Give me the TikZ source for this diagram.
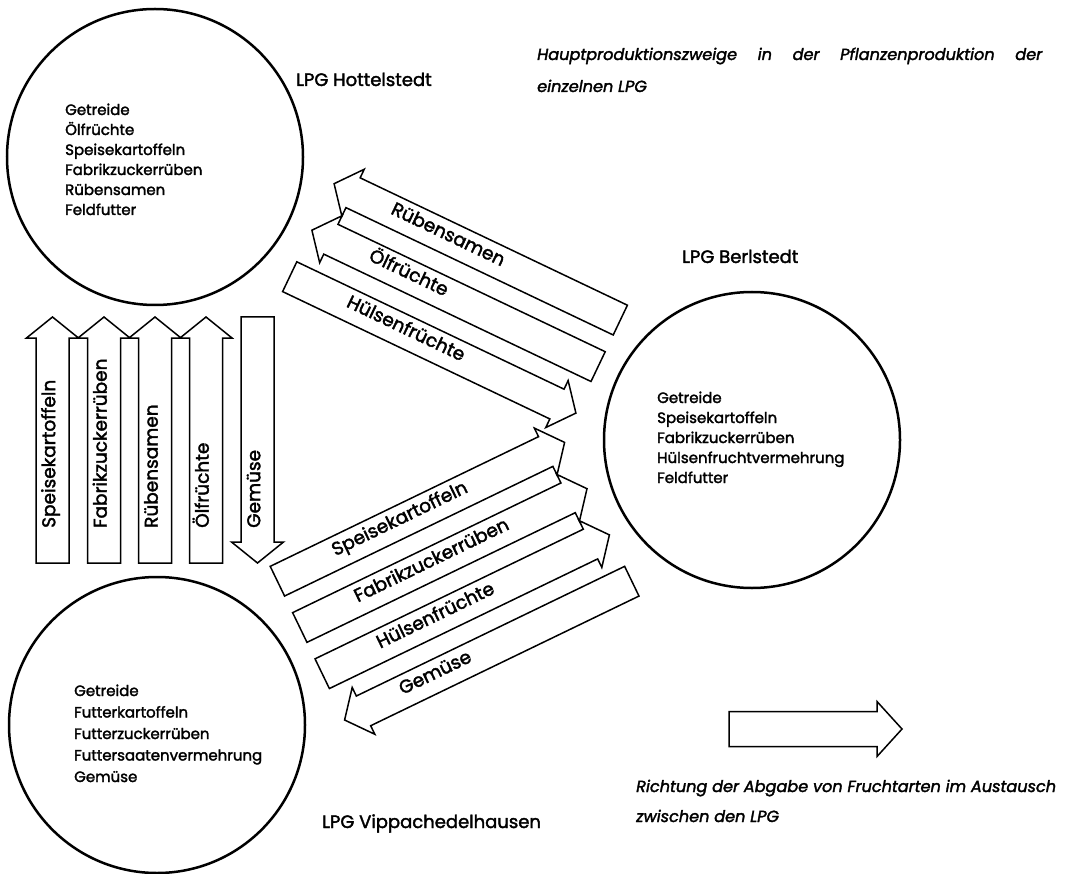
\documentclass[tikz,border=0pt]{standalone}
\usepackage{fontspec}
\setmainfont{Poppins}[FakeBold=2]
\usetikzlibrary{calc}
\newcommand\arrHalf{16.5pt}
\newcommand\arrHead{26pt}
\newcommand\arrLen{21pt}
\newcommand\fatarrow[3]{%
  \coordinate (#1-b) at ($(#3)!\arrLen!(#2)$);
  \draw[fat] ($(#2)!\arrHalf!90:(#3)$) -- ($(#1-b)!\arrHalf!90:(#3)$) -- ($(#1-b)!\arrHead!90:(#3)$) -- (#3)
    -- ($(#1-b)!\arrHead!-90:(#3)$) -- ($(#1-b)!\arrHalf!-90:(#3)$) -- ($(#2)!\arrHalf!-90:(#3)$) -- cycle;}
\begin{document}
\begin{tikzpicture}[x=1pt,y=-1pt,
  fat/.style={draw, line width=1.5pt, fill=white, line join=miter},
  circ/.style={circle, draw, line width=2.5pt, minimum size=296pt, inner sep=0pt},
  lst/.style={font=\fontsize{15}{18}\selectfont, anchor=base west, inner sep=0pt},
  lab/.style={font=\fontsize{18}{22}\selectfont, anchor=base west, inner sep=0pt},
  band/.style={font=\fontsize{18.5}{22}\selectfont, anchor=mid west, inner sep=0pt},
  note/.style={font=\itshape\fontsize{16.1}{20}\selectfont, anchor=base west, inner sep=0pt}]
\useasboundingbox (0,0) rectangle (1070,874);
\fill[white] (0,0) rectangle (1070,874);
% circles
\node[circ] (hott) at (155,157) {};
\node[circ] (berl) at (752,440) {};
\node[circ] (vipp) at (157,725) {};
% lists
\foreach \t [count=\i] in {Getreide,Ölfrüchte,Speisekartoffeln,Fabrikzuckerrüben,Rübensamen,Feldfutter}
  \node[lst] (hl\i) at (65,95+20*\i) {\t};
\foreach \t [count=\i] in {Getreide,Speisekartoffeln,Fabrikzuckerrüben,Hülsenfruchtvermehrung,Feldfutter}
  \node[lst] (bl\i) at (657,383+20*\i) {\t};
\foreach \t [count=\i] in {Getreide,Futterkartoffeln,Futterzuckerrüben,Futtersaatenvermehrung,Gemüse}
  \node[lst] (vl\i) at (74,674.5+21.5*\i) {\t};
% labels
\node[lab] (lh) at (296,86) {LPG Hottelstedt};
\node[lab] (lb) at (682,263) {LPG Berlstedt};
\node[lab] (lv) at (322,828) {LPG Vippachedelhausen};
% vertical arrows
\foreach \x [count=\n] in {52.5,104,155,206} {
  \coordinate (va\n) at (\x,563); \coordinate (vz\n) at (\x,317);
  \fatarrow{v\n}{va\n}{vz\n}
}
\coordinate (ga) at (257.5,317); \coordinate (gz) at (257.5,563);
\fatarrow{g}{ga}{gz}
\node[band, rotate=90] (tv1) at ($(va1)!35pt!(vz1)$) {Speisekartoffeln};
\node[band, rotate=90] (tv2) at ($(va2)!35pt!(vz2)$) {Fabrikzuckerrüben};
\node[band, rotate=90] (tv3) at ($(va3)!35pt!(vz3)$) {Rübensamen};
\node[band, rotate=90] (tv4) at ($(va4)!35pt!(vz4)$) {Ölfrüchte};
\node[band, rotate=90] (tg) at ($(gz)!35pt!(ga)$) {Gemüse};
% upper bands (Hottelstedt - Berlstedt)
\coordinate (u1a) at (620.3,320.1); \coordinate (u1z) at (334.1,183.7);
\coordinate (u2a) at (598.1,366.6); \coordinate (u2z) at (311.9,230.2);
\coordinate (u3a) at (289.7,276.7); \coordinate (u3z) at (575.9,413.1);
\fatarrow{u1}{u1a}{u1z}
\fatarrow{u2}{u2a}{u2z}
\fatarrow{u3}{u3a}{u3z}
\node[band, rotate=-25.5] (tu1) at ($(u1z)!63pt!(u1a)$) {Rübensamen};
\node[band, rotate=-25.5] (tu2) at ($(u2z)!63pt!(u2a)$) {Ölfrüchte};
\node[band, rotate=-25.5] (tu3) at ($(u3a)!63pt!(u3z)$) {Hülsenfrüchte};
% lower bands (Vippachedelhausen - Berlstedt)
\coordinate (w1a) at (277.4,581.2); \coordinate (w1z) at (564.6,442.4);
\coordinate (w2a) at (299.8,627.5); \coordinate (w2z) at (587.0,488.7);
\coordinate (w3a) at (322.2,673.7); \coordinate (w3z) at (609.4,534.9);
\coordinate (w4a) at (631.8,581.2); \coordinate (w4z) at (344.6,720.0);
\fatarrow{w1}{w1a}{w1z}
\fatarrow{w2}{w2a}{w2z}
\fatarrow{w3}{w3a}{w3z}
\fatarrow{w4}{w4a}{w4z}
\node[band, rotate=25.8] (tw1) at ($(w1a)!63pt!(w1z)$) {Speisekartoffeln};
\node[band, rotate=25.8] (tw2) at ($(w2a)!63pt!(w2z)$) {Fabrikzuckerrüben};
\node[band, rotate=25.8] (tw3) at ($(w3a)!63pt!(w3z)$) {Hülsenfrüchte};
\node[band, rotate=25.8] (tw4) at ($(w4z)!63pt!(w4a)$) {Gemüse};
% legend
\renewcommand\arrHalf{17.5pt}
\renewcommand\arrHead{27.5pt}
\renewcommand\arrLen{25pt}
\coordinate (la) at (729,729); \coordinate (lz) at (902,729);
\fatarrow{leg}{la}{lz}
% notes
\node[note] (h1) at (537,60) {\makebox[505pt][s]{Hauptproduktionszweige in der Pflanzenproduktion der}};
\node[note] (h2) at (537,92) {einzelnen LPG};
\node[note] (n1) at (636,792) {Richtung der Abgabe von Fruchtarten im Austausch};
\node[note] (n2) at (636,822) {zwischen den LPG};
\end{tikzpicture}
\end{document}
